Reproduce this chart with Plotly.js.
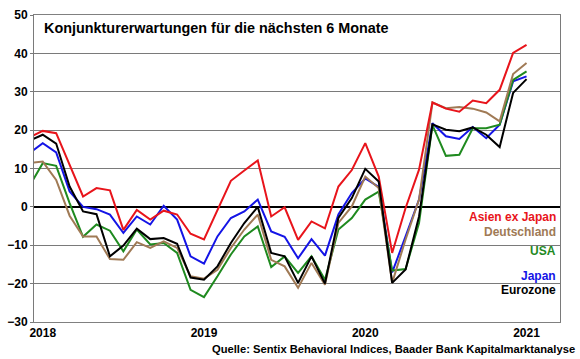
<!DOCTYPE html>
<html>
<head>
<meta charset="utf-8">
<script src="https://cdn.plot.ly/plotly-3.0.1.min.js"></script>
<style>html,body{margin:0;padding:0;background:#fff;}#chart{width:580px;height:359px;}</style>
</head>
<body>
<div id="chart"></div>
<script>
// Month index: 0 = Jan 2018, -1 = Dec 2017 (clipped at the left edge)
const months = [];
for (let k = -1; k <= 36; k++) months.push(k);

const asienExJapan = [18.1, 19.8, 19.2, 11.0, 2.7, 4.9, 4.3, -6.0, -0.8, -3.3, -1.0, -2.0, -7.0, -8.5, -1.0, 6.8, 9.5, 12.1, -2.5, -0.1, -8.6, -3.8, -5.6, 5.3, 9.6, 16.6, 7.9, -12.0, -0.3, 9.7, 27.2, 25.6, 24.8, 27.7, 27.0, 30.5, 40.1, 42.2];
const deutschland = [11.4, 11.8, 7.0, -2.3, -7.7, -7.7, -13.6, -13.8, -9.2, -10.7, -9.0, -10.7, -18.1, -18.7, -16.4, -10.7, -5.9, -2.0, -13.8, -15.5, -21.1, -14.6, -20.3, -4.2, 0.1, 7.9, 4.9, -19.8, -8.5, 1.9, 27.2, 25.7, 26.0, 25.6, 24.6, 22.3, 34.6, 37.5];
const usa = [5.3, 11.4, 10.7, 1.0, -7.8, -4.6, -6.2, -11.6, -5.9, -9.8, -9.4, -12.0, -21.6, -23.5, -18.1, -12.4, -7.7, -5.1, -15.7, -12.9, -17.2, -12.9, -19.0, -5.9, -2.9, 1.9, 4.0, -16.6, -16.2, -4.2, 21.3, 13.3, 13.6, 20.5, 20.5, 21.4, 33.1, 35.3];
const japan = [14.0, 16.6, 14.2, 4.0, 0.0, -0.6, -2.0, -6.8, -2.5, -4.6, 0.3, -3.3, -12.9, -14.8, -7.7, -2.9, -1.2, 1.9, -6.4, -7.8, -13.4, -8.4, -12.7, -2.0, 3.6, 7.4, 5.2, -17.1, -7.7, 1.9, 21.8, 18.4, 17.7, 20.8, 17.9, 21.4, 32.7, 34.0];
const eurozone = [17.2, 18.8, 16.5, 5.3, -1.2, -1.9, -12.9, -10.1, -5.7, -8.4, -8.1, -9.6, -18.4, -19.0, -15.5, -9.4, -4.2, 0.0, -12.0, -12.9, -19.8, -12.9, -20.0, -2.9, 2.3, 9.9, 6.6, -19.8, -16.3, -2.5, 21.5, 20.1, 19.7, 20.7, 18.8, 15.6, 29.7, 33.3];

const yearTickVals = [0, 12, 24, 36];
const yearTickText = ["2018", "2019", "2020", "2021"];

const seriesNames = ["Asien ex Japan", "Deutschland", "USA", "Japan", "Eurozone"];
const seriesColors = ["#E8141B", "#A07A55", "#1F8A1F", "#1414E6", "#000000"];
const seriesData = [asienExJapan, deutschland, usa, japan, eurozone];
const labelY = [-2.7, -6.6, -11.6, -17.9, -21.7];

const titleText = "Konjunkturerwartungen für die nächsten 6 Monate";
const sourceText = "Quelle: Sentix Behavioral Indices, Baader Bank Kapitalmarktanalyse";

const font = "Liberation Sans, Arial, sans-serif";

// draw order: back to front
const order = [3, 2, 1, 0, 4];
const traces = order.map(i => ({
  x: months, y: seriesData[i], type: "scatter", mode: "lines",
  name: seriesNames[i], line: {color: seriesColors[i], width: 2},
  hoverinfo: "skip"
}));

const annotations = [
  {xref: "paper", yref: "paper", x: 0.0146, y: 0.957, xanchor: "left", yanchor: "middle",
   text: "<b>" + titleText + "</b>", showarrow: false, font: {family: font, size: 14.4, color: "#000"}},
  {xref: "paper", yref: "paper", x: 1.032, y: -0.088, xanchor: "right", yanchor: "middle",
   text: "<b>" + sourceText + "</b>", showarrow: false, font: {family: font, size: 11.2, color: "#000"}}
];
seriesNames.forEach((n, i) => annotations.push({
  xref: "paper", yref: "y", x: 1, xshift: -2, y: labelY[i], xanchor: "right", yanchor: "middle",
  text: "<b>" + n + "</b>", showarrow: false, font: {family: font, size: 12, color: seriesColors[i]}
}));

const layout = {
  width: 580, height: 359,
  margin: {l: 34, r: 20, t: 15, b: 37},
  paper_bgcolor: "#fff", plot_bgcolor: "#fff",
  showlegend: false,
  font: {family: font, color: "#000"},
  xaxis: {
    range: [-0.65, 38.49], tickmode: "array", tickvals: yearTickVals, ticktext: yearTickText,
    showgrid: false, zeroline: false, showline: true, mirror: true, linecolor: "#808080", linewidth: 1,
    ticks: "", tickfont: {family: font, size: 12, color: "#000", weight: "bold"}
  },
  yaxis: {
    range: [-30, 50], dtick: 10, tick0: 0,
    showgrid: true, gridcolor: "#7a7a7a", gridwidth: 1,
    zeroline: true, zerolinecolor: "#000", zerolinewidth: 2,
    showline: true, mirror: true, linecolor: "#7a7a7a", linewidth: 1,
    ticks: "outside", ticklen: 3, tickcolor: "#7a7a7a",
    tickfont: {family: font, size: 12, color: "#000", weight: "bold"}
  },
  annotations: annotations
};

Plotly.newPlot("chart", traces, layout, {staticPlot: true, displayModeBar: false});
</script>
</body>
</html>
